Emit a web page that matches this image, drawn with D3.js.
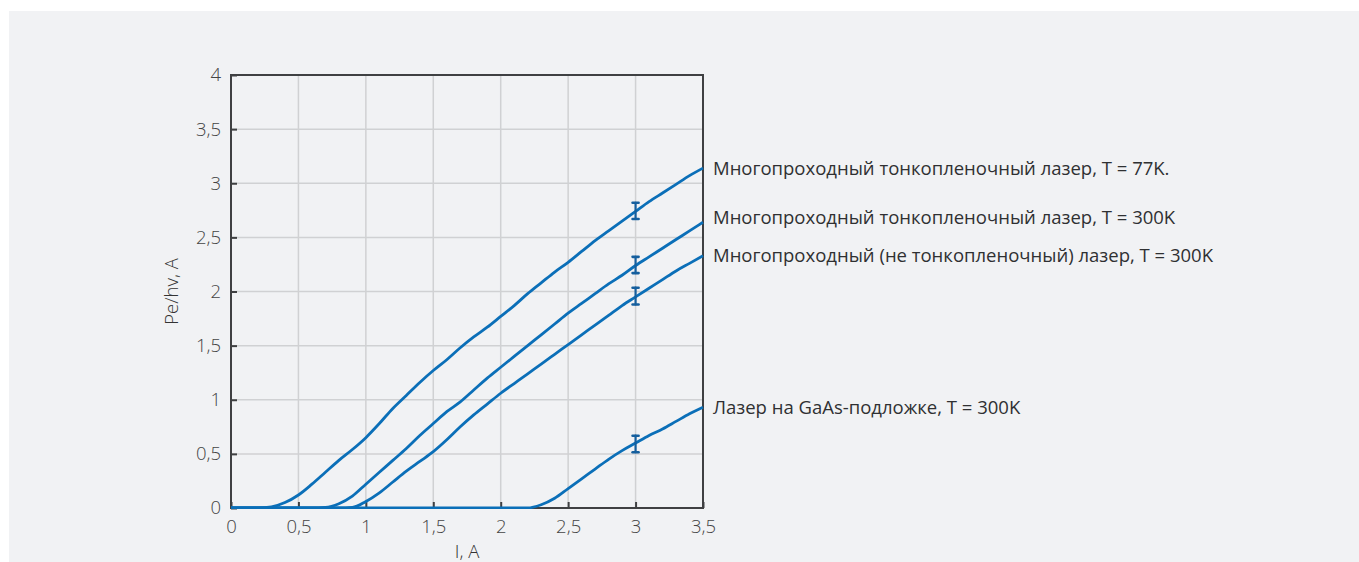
<!DOCTYPE html>
<html><head><meta charset="utf-8">
<script src="https://cdn.jsdelivr.net/npm/d3@7"></script>
<style>
html,body{margin:0;padding:0;background:#fff;}
svg{display:block;}
text{font-family:"Open Sans","Noto Sans",sans-serif;}
</style></head>
<body>
<script>
// ---- data ----
const currents = [0,0.1,0.2,0.3,0.4,0.5,0.6,0.7,0.8,0.9,1.0,1.1,1.2,1.3,1.4,1.5,1.6,1.7,1.8,1.9,2.0,2.1,2.2,2.3,2.4,2.5,2.6,2.7,2.8,2.9,3.0,3.1,3.2,3.3,3.4,3.5];
const series77K = [0,0,0,0.01,0.05,0.12,0.22,0.33,0.44,0.54,0.65,0.78,0.92,1.04,1.16,1.27,1.37,1.48,1.58,1.67,1.77,1.87,1.98,2.08,2.18,2.27,2.37,2.47,2.56,2.65,2.74,2.83,2.91,2.99,3.07,3.14];
const seriesThin300K = [0,0,0,0,0,0,0,0.005,0.04,0.11,0.22,0.33,0.44,0.55,0.67,0.78,0.89,0.98,1.09,1.20,1.30,1.40,1.50,1.60,1.70,1.80,1.89,1.98,2.07,2.15,2.24,2.32,2.40,2.48,2.56,2.64];
const seriesBulk300K = [0,0,0,0,0,0,0,0,0,0.005,0.06,0.14,0.24,0.34,0.43,0.52,0.63,0.75,0.86,0.96,1.06,1.15,1.24,1.33,1.42,1.51,1.60,1.69,1.78,1.87,1.95,2.03,2.11,2.19,2.26,2.33];
const seriesGaAs300K = [0,0,0,0,0,0,0,0,0,0,0,0,0,0,0,0,0,0,0,0,0,0,0,0.03,0.09,0.18,0.27,0.36,0.45,0.53,0.60,0.67,0.73,0.80,0.87,0.93];
const seriesNames = [
  "Многопроходный тонкопленочный лазер, T = 77K.",
  "Многопроходный тонкопленочный лазер, T = 300K",
  "Многопроходный (не тонкопленочный) лазер, T = 300K",
  "Лазер на GaAs-подложке, T = 300K"
];
const errorX = 3;
const errorLow = [2.67, 2.17, 1.88, 0.515];
const errorHigh = [2.82, 2.32, 2.035, 0.668];
const labelValues = [3.14, 2.64, 2.33, 0.93];
const xTicks = [0,0.5,1,1.5,2,2.5,3,3.5];
const yTicks = [0,0.5,1,1.5,2,2.5,3,3.5,4];
const xTitle = "I, A";
const yTitle = "Pe/hv, A";

// ---- layout ----
const W = 1359, H = 562;
const m = {left:231, right:703, top:75, bottom:508};
const svg = d3.select("body").append("svg").attr("width",W).attr("height",H);
svg.append("rect").attr("x",9).attr("y",11).attr("width",W-9).attr("height",H-11).attr("fill","#f1f2f4");

const x = d3.scaleLinear().domain([0,3.5]).range([m.left,m.right]);
const y = d3.scaleLinear().domain([0,4]).range([m.bottom,m.top]);
const fmt = d => String(d).replace(".",",");

// grid
const grid = svg.append("g");
grid.selectAll("line.v").data(xTicks.slice(1,-1)).join("line")
  .attr("x1",d=>x(d)).attr("x2",d=>x(d)).attr("y1",m.top).attr("y2",m.bottom)
  .attr("stroke","#d0d1d3").attr("stroke-width",1.5);
grid.selectAll("line.h").data(yTicks.slice(1,-1)).join("line")
  .attr("y1",d=>y(d)).attr("y2",d=>y(d)).attr("x1",m.left).attr("x2",m.right)
  .attr("stroke","#d0d1d3").attr("stroke-width",1.5);

// axes
const axisColor = "#3f4042";
const gx = svg.append("g").attr("transform",`translate(0,${m.bottom})`)
  .call(d3.axisBottom(x).tickValues(xTicks).tickSizeInner(-6).tickSizeOuter(0).tickPadding(9).tickFormat(fmt));
const gy = svg.append("g").attr("transform",`translate(${m.left},0)`)
  .call(d3.axisLeft(y).tickValues(yTicks).tickSizeInner(-6).tickSizeOuter(0).tickPadding(10).tickFormat(fmt));
[gx,gy].forEach(g=>{
  g.select(".domain").remove();
  g.selectAll(".tick line").attr("stroke",axisColor).attr("stroke-width",2);
  g.selectAll(".tick text").attr("fill","#444").style("font-size","18.5px").style("font-weight","300");
});
gx.selectAll(".tick text").attr("dy","0.85em");
// frame
svg.append("rect").attr("x",m.left).attr("y",m.top).attr("width",m.right-m.left).attr("height",m.bottom-m.top)
  .attr("fill","none").attr("stroke",axisColor).attr("stroke-width",2);

// titles
svg.append("text").attr("x",(m.left+m.right)/2).attr("y",558).attr("text-anchor","middle")
  .attr("fill","#333").style("font-size","18.5px").style("font-weight","300").text(xTitle);
svg.append("text").attr("transform",`translate(178,${(m.top+m.bottom)/2}) rotate(-90)`).attr("text-anchor","middle")
  .attr("fill","#333").style("font-size","18.5px").style("font-weight","300").text(yTitle);

// lines
const allSeries = [series77K, seriesThin300K, seriesBulk300K, seriesGaAs300K];
const lineColor = "#0b6fb8";
const line = d3.line().x((d,i)=>x(currents[i])).y(d=>y(d)).curve(d3.curveMonotoneX);
const clip = svg.append("clipPath").attr("id","c").append("rect")
  .attr("x",m.left).attr("y",m.top-2).attr("width",m.right-m.left+2).attr("height",m.bottom-m.top+3);
const lg = svg.append("g").attr("clip-path","url(#c)");
allSeries.slice().reverse().forEach(s=>{
  lg.append("path").datum(s).attr("d",line).attr("fill","none")
    .attr("stroke",lineColor).attr("stroke-width",2.8).attr("stroke-linejoin","round");
});

// error bars
const eb = svg.append("g").attr("stroke","#155f9e").attr("stroke-width",2.2).attr("stroke-linecap","round");
errorLow.forEach((lo,i)=>{
  const hi = errorHigh[i], cx = x(errorX);
  eb.append("line").attr("x1",cx).attr("x2",cx).attr("y1",y(lo)).attr("y2",y(hi));
  [lo,hi].forEach(v=>{
    eb.append("line").attr("x1",cx-3).attr("x2",cx+3).attr("y1",y(v)).attr("y2",y(v)).attr("stroke-width",2.6);
  });
});

// labels
svg.append("g").selectAll("text").data(seriesNames).join("text")
  .attr("x",m.right+10).attr("y",(d,i)=>y(labelValues[i]) - (i===1?5:0)).attr("dy","0.35em")
  .attr("fill","#2f3032").style("font-size","18.5px").style("font-weight","400").text(d=>d);
</script>
</body></html>
